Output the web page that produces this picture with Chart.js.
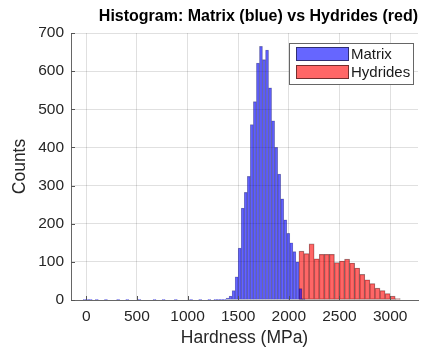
<!DOCTYPE html>
<html>
<head>
<meta charset="utf-8">
<title>Hardness histogram</title>
<script src="https://cdn.jsdelivr.net/npm/chart.js@4.4.1/dist/chart.umd.min.js"></script>
<style>
    html, body { margin: 0; padding: 0; background: #fff; }
    #chart { display: block; }
</style>
</head>
<body>
<canvas id="chart" width="435" height="349"></canvas>
<script>
// bin left edges (MPa) and counts, 30 MPa bins for the matrix
const matrixEdges = [
    -150, -120, -90, -60, -30, 0, 30, 60, 90, 120,
    150, 180, 210, 240, 270, 300, 330, 360, 390, 420,
    450, 480, 510, 540, 570, 600, 630, 660, 690, 720,
    750, 780, 810, 840, 870, 900, 930, 960, 990, 1020,
    1050, 1080, 1110, 1140, 1170, 1200, 1230, 1260, 1290, 1320,
    1350, 1380, 1410, 1440, 1470, 1500, 1530, 1560, 1590, 1620,
    1650, 1680, 1710, 1740, 1770, 1800, 1830, 1860, 1890, 1920,
    1950, 1980, 2010, 2040, 2070, 2100, 2130
];
const matrixCounts = [
    0, 0, 0, 0, 1, 2, 1, 0, 1, 0,
    0, 1, 0, 0, 0, 1, 0, 0, 1, 0,
    0, 0, 1, 0, 0, 0, 0, 1, 0, 0,
    1, 0, 0, 0, 1, 0, 0, 0, 0, 1,
    0, 0, 1, 0, 0, 1, 0, 1, 1, 1,
    2, 5, 10, 25, 61, 136, 241, 282, 324, 460,
    520, 621, 665, 630, 655, 556, 470, 400, 330, 265,
    210, 175, 150, 127, 100, 30, 3
];

// hydrides use 50 MPa bins
const hydrideEdges = [
    2100, 2150, 2200, 2250, 2300, 2350, 2400, 2450, 2500, 2550,
    2600, 2650, 2700, 2750, 2800, 2850, 2900, 2950, 3000, 3050
];
const hydrideCounts = [
    128, 122, 147, 108, 120, 120, 120, 98, 102, 107,
    97, 84, 67, 53, 43, 31, 25, 17, 10, 4
];

const xTicks = [0, 500, 1000, 1500, 2000, 2500, 3000];
const yTicks = [0, 100, 200, 300, 400, 500, 600, 700];
const xRange = [-150, 3275];

const family = "'Liberation Sans', Arial, sans-serif";
const tickFont = { family: family, size: 15.5 };
const labelFont = { family: family, size: 17.5 };
const axisColor = '#262626';

function toBins(edges, counts, width) {
    return edges.map((e, i) => ({ x: e + width / 2, y: counts[i] }));
}

function keepTicks(list) {
    return function(scale) {
        scale.ticks = list.map(v => ({ value: v }));
    };
}

// MATLAB-style legend box in the top right corner of the plot
const boxLegend = {
    id: 'boxLegend',
    afterDraw(chart) {
        const ctx = chart.ctx;
        const area = chart.chartArea;
        const w = 125, h = 42;
        const x0 = area.right - w - 4;
        const y0 = area.top + 10;
        ctx.save();
        ctx.fillStyle = '#fff';
        ctx.fillRect(x0, y0, w, h);
        ctx.strokeStyle = '#666';
        ctx.lineWidth = 1;
        ctx.strokeRect(x0 + 0.5, y0 + 0.5, w - 1, h - 1);
        ctx.font = '15px ' + family;
        ctx.textBaseline = 'middle';
        chart.data.datasets.forEach((ds, i) => {
            const sy = y0 + 4 + i * 18;
            ctx.fillStyle = ds.backgroundColor;
            ctx.fillRect(x0 + 7, sy, 53, 14);
            ctx.strokeStyle = 'rgba(0,0,0,0.55)';
            ctx.strokeRect(x0 + 7.5, sy + 0.5, 52, 13);
            ctx.fillStyle = '#1a1a1a';
            ctx.fillText(ds.label, x0 + 62, sy + 7.5);
        });
        ctx.restore();
    }
};

// short inward tick marks on the left and bottom axes
const innerTicks = {
    id: 'innerTicks',
    afterDatasetsDraw(chart) {
        const ctx = chart.ctx;
        const area = chart.chartArea;
        const xs = chart.scales.x, ys = chart.scales.y;
        ctx.save();
        ctx.strokeStyle = '#555';
        ctx.lineWidth = 1;
        ctx.beginPath();
        xs.ticks.forEach(t => {
            const px = Math.round(xs.getPixelForValue(t.value)) + 0.5;
            ctx.moveTo(px, area.bottom);
            ctx.lineTo(px, area.bottom - 4);
        });
        ys.ticks.forEach(t => {
            const py = Math.round(ys.getPixelForValue(t.value)) + 0.5;
            ctx.moveTo(area.left, py);
            ctx.lineTo(area.left + 4, py);
        });
        ctx.stroke();
        ctx.restore();
    }
};

const ctx = document.getElementById('chart').getContext('2d');
const chart = new Chart(ctx, {
    type: 'bar',
    data: {
        datasets: [{
            label: 'Matrix',
            data: toBins(matrixEdges, matrixCounts, 30),
            xAxisID: 'x',
            backgroundColor: 'rgba(0, 0, 255, 0.6)',
            borderColor: 'rgba(0, 0, 0, 0.35)',
            borderWidth: 0.5,
            borderSkipped: false,
            grouped: false,
            barPercentage: 1,
            categoryPercentage: 1
        }, {
            label: 'Hydrides',
            data: toBins(hydrideEdges, hydrideCounts, 50),
            xAxisID: 'x2',
            backgroundColor: 'rgba(255, 0, 0, 0.6)',
            borderColor: 'rgba(0, 0, 0, 0.45)',
            borderWidth: 0.6,
            borderSkipped: false,
            grouped: false,
            barPercentage: 1,
            categoryPercentage: 1
        }]
    },
    options: {
        responsive: false,
        animation: false,
        layout: { padding: { left: 0, right: 17, top: 0, bottom: 0 } },
        scales: {
            x: {
                type: 'linear',
                offset: false,
                min: xRange[0],
                max: xRange[1],
                afterBuildTicks: keepTicks(xTicks),
                afterFit: function(scale) { scale.height = 49; },
                grid: { color: 'rgba(0,0,0,0.12)', drawTicks: false, offset: false },
                border: { color: '#666', width: 1 },
                ticks: {
                    font: tickFont,
                    color: axisColor,
                    padding: 7,
                    maxRotation: 0,
                    callback: v => String(v)
                },
                title: {
                    display: true,
                    text: 'Hardness (MPa)',
                    font: labelFont,
                    color: axisColor,
                    padding: { top: 0, bottom: 0.5 }
                }
            },
            x2: {
                type: 'linear',
                display: false,
                offset: false,
                min: xRange[0],
                max: xRange[1]
            },
            y: {
                min: 0,
                max: 700,
                afterBuildTicks: keepTicks(yTicks),
                afterFit: function(scale) { scale.width = 71; },
                grid: { color: 'rgba(0,0,0,0.12)', drawTicks: false },
                border: { color: '#666', width: 1 },
                ticks: { font: tickFont, color: axisColor, padding: 7 },
                title: {
                    display: true,
                    text: 'Counts',
                    font: labelFont,
                    color: axisColor,
                    padding: { top: 9.5, bottom: 0 }
                }
            }
        },
        plugins: {
            legend: { display: false },
            tooltip: { enabled: false },
            title: {
                display: true,
                align: 'end',
                text: 'Histogram: Matrix (blue) vs Hydrides (red)',
                color: '#000',
                font: { family: family, size: 16, weight: 'bold' },
                padding: { top: 7, bottom: 6.8 }
            }
        }
    },
    plugins: [innerTicks, boxLegend]
});
</script>
</body>
</html>
